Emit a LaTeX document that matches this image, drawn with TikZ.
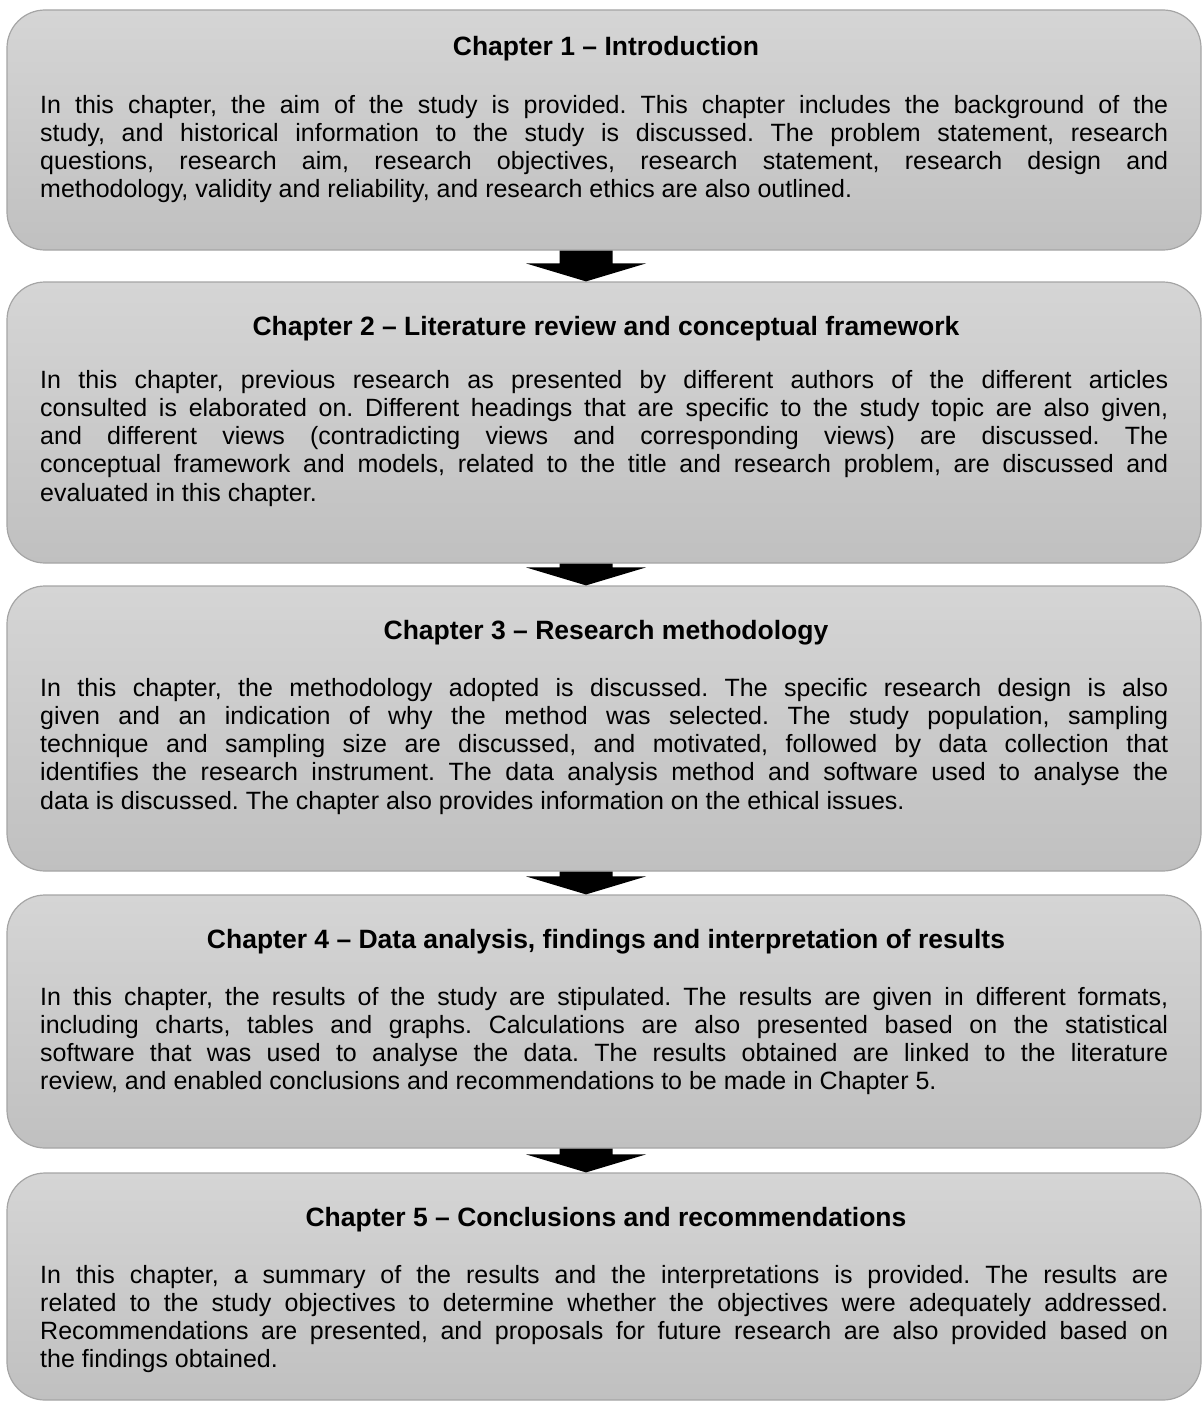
\documentclass[tikz,border=0pt]{standalone}
\usepackage{fontspec}
\setmainfont{Liberation Sans}
\usetikzlibrary{calc}

\definecolor{boxtop}{RGB}{213,213,213}
\definecolor{boxbot}{RGB}{192,192,192}
\definecolor{boxline}{RGB}{165,165,165}

% paragraph settings for the chapter summaries
\newcommand\summaryset{\frenchspacing\tolerance=9999\relax\hyphenpenalty=10000\relax}

\tikzset{
  chapbox/.style={draw=boxline, line width=1.2pt, rounded corners=38pt,
    top color=boxtop, bottom color=boxbot, minimum width=1194pt, inner sep=0pt},
  chaptitle/.style={anchor=base, inner sep=0pt,
    font=\bfseries\fontsize{26.5}{30}\selectfont},
  chapbody/.style={anchor=base west, inner sep=0pt, text width=1128pt, align=justify,
    font=\fontsize{25}{28.3}\selectfont},
  flowarrow/.style={fill=black}
}

% block arrow from the bottom of one chapter box to the top of the next
\newcommand\flowdown[2]{%
  \fill[flowarrow] let \p1=(#1.south), \p2=(#2.north) in
    (\x1-44.5pt,\y1) -- (\x1+8.5pt,\y1) -- (\x1+8.5pt,\y2+18pt) --
    (\x1+42pt,\y2+18pt) -- (\x1-18pt,\y2) -- (\x1-78pt,\y2+18pt) --
    (\x1-44.5pt,\y2+18pt) -- cycle;}

\begin{document}
\begin{tikzpicture}[x=1pt,y=-1pt]
\useasboundingbox (0,0) rectangle (1203,1405);

% chapter boxes
\node[chapbox, minimum height=240pt] (c1) at (604,130) {};
\node[chapbox, minimum height=281pt] (c2) at (604,422.5) {};
\node[chapbox, minimum height=285pt] (c3) at (604,728.5) {};
\node[chapbox, minimum height=253pt] (c4) at (604,1021.5) {};
\node[chapbox, minimum height=227pt] (c5) at (604,1286.5) {};

% arrows between chapters
\flowdown{c1}{c2}
\flowdown{c2}{c3}
\flowdown{c3}{c4}
\flowdown{c4}{c5}

% chapter 1
\node[chaptitle] (t1) at (606,56) {Chapter 1 – Introduction};
\node[chapbody] (b1) at (40,113) {\summaryset In this chapter, the aim of the study is provided. This chapter includes the background of the\linebreak
study, and historical information to the study is discussed. The problem statement, research\linebreak
questions, research aim, research objectives, research statement, research design and\linebreak
methodology, validity and reliability, and research ethics are also outlined.};

% chapter 2
\node[chaptitle] (t2) at (606,335) {Chapter 2 – Literature review and conceptual framework};
\node[chapbody] (b2) at (40,388) {\summaryset In this chapter, previous research as presented by different authors of the different articles\linebreak
consulted is elaborated on. Different headings that are specific to the study topic are also given,\linebreak
and different views (contradicting views and corresponding views) are discussed. The\linebreak
conceptual framework and models, related to the title and research problem, are discussed and\linebreak
evaluated in this chapter.};

% chapter 3
\node[chaptitle] (t3) at (606,639) {Chapter 3 – Research methodology};
\node[chapbody] (b3) at (40,696) {\summaryset In this chapter, the methodology adopted is discussed. The specific research design is also\linebreak
given and an indication of why the method was selected. The study population, sampling\linebreak
technique and sampling size are discussed, and motivated, followed by data collection that\linebreak
identifies the research instrument. The data analysis method and software used to analyse the\linebreak
data is discussed. The chapter also provides information on the ethical issues.};

% chapter 4
\node[chaptitle] (t4) at (606,948) {Chapter 4 – Data analysis, findings and interpretation of results};
\node[chapbody] (b4) at (40,1005) {\summaryset In this chapter, the results of the study are stipulated. The results are given in different formats,\linebreak
including charts, tables and graphs. Calculations are also presented based on the statistical\linebreak
software that was used to analyse the data. The results obtained are linked to the literature\linebreak
review, and enabled conclusions and recommendations to be made in Chapter 5.};

% chapter 5
\node[chaptitle] (t5) at (606,1226) {Chapter 5 – Conclusions and recommendations};
\node[chapbody] (b5) at (40,1283) {\summaryset In this chapter, a summary of the results and the interpretations is provided. The results are\linebreak
related to the study objectives to determine whether the objectives were adequately addressed.\linebreak
Recommendations are presented, and proposals for future research are also provided based on\linebreak
the findings obtained.};
\end{tikzpicture}
\end{document}
